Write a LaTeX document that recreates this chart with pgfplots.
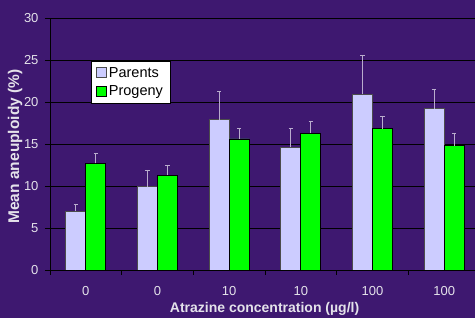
\documentclass[border=0pt]{standalone}
\usepackage{pgfplots}
\pgfplotsset{compat=1.18}
\usepackage{fontspec}
\setmainfont{Liberation Sans}
\definecolor{bg}{RGB}{62,24,112}
\definecolor{txt}{RGB}{228,226,234}
\definecolor{par}{RGB}{204,204,255}
\definecolor{prog}{RGB}{0,255,0}
\definecolor{err}{RGB}{185,172,205}
\begin{document}
\begin{tikzpicture}
\useasboundingbox (0,0) rectangle (475pt,318pt);
\clip (0,0) rectangle (475pt,318pt);
\fill[bg] (0,0) rectangle (475pt,318pt);
\begin{axis}[
  at={(50pt,48pt)}, anchor=south west,
  scale only axis, width=430pt, height=252pt,
  ybar=0pt, bar width=20pt,
  xmin=-0.5, xmax=5.5, ymin=0, ymax=30,
  xtick={0,1,2,3,4,5},
  xticklabels={0,0,10,10,100,100},
  minor xtick={-0.5,0.5,1.5,2.5,3.5,4.5,5.5},
  ytick={0,5,10,15,20,25,30},
  ymajorgrids, grid style={black, line width=0.8pt},
  axis x line*=bottom, axis y line*=left,
  axis line style={black, line width=0.8pt},
  tick align=outside,
  major x tick style={draw=none},
  minor x tick style={black, line width=0.8pt},
  minor tick length=5pt,
  major tick length=5pt,
  y tick style={black, line width=0.8pt},
  /pgf/number format/assume math mode=true,
  ticklabel style={font=\fontsize{13}{15}\selectfont, text=txt},
  xticklabel style={yshift=-8pt},
  yticklabel style={xshift=-3pt},
  xlabel={Atrazine concentration (µg/l)},
  ylabel={Mean aneuploidy (\%)},
  xlabel style={at={(axis description cs:0.499,-0.155)}, anchor=center, font=\bfseries\fontsize{14}{16}\selectfont, text=txt},
  ylabel style={at={(axis description cs:-0.081,0.49)}, anchor=center, rotate=0, font=\bfseries\fontsize{15.5}{17}\selectfont, text=txt},
  legend style={at={(axis description cs:0.0947,0.8306)}, anchor=north west,
    fill=white, draw=black, line width=0.8pt, font=\fontsize{14.5}{17}\selectfont, text=black,
    inner xsep=5pt, inner ysep=4pt, row sep=3pt, cells={anchor=west}},
  legend image code/.code={\draw[#1, line width=0.8pt] (0pt,-5pt) rectangle (10pt,5pt);},
  error bars/y dir=plus, error bars/y explicit,
  error bars/error bar style={err, line width=1pt},
  error bars/error mark options={err, rotate=90, mark size=2.3pt, line width=1pt},
]
\addplot[fill=par, draw=black!70, line width=0.8pt] coordinates {
  (0,7.0) +- (0,0.8)
  (1,9.9) +- (0,1.9)
  (2,17.9) +- (0,3.3)
  (3,14.6) +- (0,2.3)
  (4,20.9) +- (0,4.6)
  (5,19.2) +- (0,2.3)
};
\addplot[fill=prog, draw=black, line width=0.8pt] coordinates {
  (0,12.7) +- (0,1.2)
  (1,11.3) +- (0,1.1)
  (2,15.6) +- (0,1.3)
  (3,16.3) +- (0,1.4)
  (4,16.8) +- (0,1.45)
  (5,14.8) +- (0,1.5)
};
\legend{Parents,Progeny}
\end{axis}
\end{tikzpicture}
\end{document}
